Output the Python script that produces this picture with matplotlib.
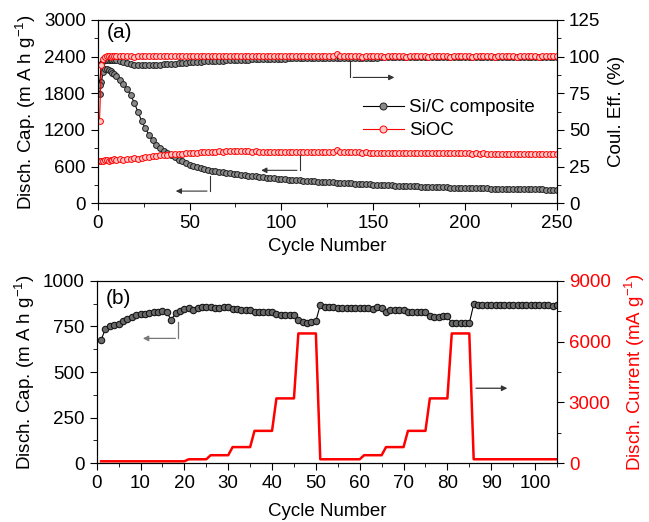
import matplotlib
matplotlib.use("Agg")
import matplotlib.pyplot as plt
from matplotlib.ticker import MultipleLocator

plt.rcParams['font.family'] = ['Liberation Sans', 'DejaVu Sans']
plt.rcParams['mathtext.fontset'] = 'custom'
plt.rcParams['mathtext.rm'] = 'Liberation Sans'
plt.rcParams['mathtext.default'] = 'regular'

# ---------------- Panel (a) data ----------------
cycles_a = list(range(1, 11)) + list(range(12, 251, 2))

sic_cap = [1790, 1990, 2150, 2190, 2200, 2185, 2165, 2140, 2115, 2090,
           2010, 1950, 1870, 1770, 1640, 1490, 1340, 1225, 1120, 1030,
           960, 905, 860, 820, 785, 750, 715, 685, 655, 630,
           610, 592, 575, 560, 547,
           535, 525, 515, 505, 495, 488, 481, 474, 467, 460,
           453, 446, 439, 432, 425, 419, 413, 407, 401, 395,
           391, 387, 383, 379, 375, 371, 367, 363, 359, 355,
           352, 348, 345, 341, 338, 335, 331, 328, 325, 321,
           318, 315, 312, 308, 305, 303, 300, 298, 295, 293,
           290, 288, 285, 283, 280, 278, 276, 274, 272, 270,
           268, 266, 264, 262, 260, 258, 256, 254, 252, 250,
           249, 248, 246, 245, 244, 243, 241, 240, 239, 238,
           237, 236, 235, 234, 233, 232, 231, 230, 229, 228,
           227, 226, 224, 222, 220]

sioc_cap = [690, 700, 695, 705, 710, 700, 715, 705, 720, 712,
            718, 710, 725, 730, 735, 728, 745, 760, 752, 770,
            778, 790, 785, 795, 800, 808, 805, 815, 820, 825,
            830, 828, 835, 838, 840,
            842, 846, 848, 845, 850, 848, 852, 849, 851, 848,
            850, 846, 849, 845, 847, 844, 846, 842, 845, 842,
            840, 843, 839, 841, 838, 840, 836, 839, 835, 838,
            836, 838, 835, 840, 868, 845, 835, 833, 836, 832,
            834, 830, 833, 829, 831, 828, 830, 827, 829, 826,
            828, 825, 827, 824, 826, 823, 825, 822, 824, 821,
            823, 820, 822, 819, 821, 818, 820, 817, 819, 816,
            818, 815, 817, 814, 816, 813, 815, 812, 814, 811,
            813, 810, 812, 809, 811, 808, 810, 807, 809, 806,
            808, 805, 807, 804, 805]

sic_ce = [80.5, 95.0, 97.3, 97.6, 97.8, 97.9, 97.8, 97.7, 97.6, 97.5,
          97.2, 96.6, 95.8, 95.0, 94.6, 94.3, 94.2, 94.1, 94.1, 94.2,
          94.3, 94.5, 94.7, 94.9, 95.1, 95.3, 95.5, 95.7, 95.9, 96.1,
          96.3, 96.5, 96.6, 96.8, 96.9,
          97.0, 97.1, 97.2, 97.3, 97.4, 97.5, 97.6, 97.7, 97.8, 97.9,
          98.0, 98.1, 98.2, 98.3, 98.4, 98.45, 98.5, 98.55, 98.6, 98.65,
          98.7, 98.75, 98.8, 98.85, 98.9, 98.9, 98.95, 99.0, 99.0, 99.05,
          99.1, 99.1, 99.15, 99.2, 99.2, 99.2, 99.25, 99.3, 99.3, 99.3,
          99.35, 99.35, 99.4, 99.4, 99.4, 99.4, 99.45, 99.45, 99.45, 99.5,
          99.5, 99.5, 99.5, 99.5, 99.55, 99.55, 99.55, 99.55, 99.55, 99.6,
          99.6, 99.6, 99.6, 99.6, 99.6, 99.6, 99.6, 99.6, 99.6, 99.6,
          99.6, 99.6, 99.6, 99.6, 99.6, 99.6, 99.6, 99.6, 99.6, 99.6,
          99.6, 99.6, 99.6, 99.6, 99.6, 99.6, 99.6, 99.6, 99.6, 99.6,
          99.6, 99.6, 99.6, 99.6, 99.6]

sioc_ce = [56.0, 94.0, 98.5, 99.6, 100.2, 100.4, 100.1, 100.6, 100.3, 100.5,
           100.2, 100.6, 100.3, 100.5, 100.1, 100.4, 100.7, 100.3, 100.5, 100.2,
           100.6, 100.4, 100.2, 100.5, 100.3, 100.6, 100.4, 100.2, 100.5, 100.3,
           100.5, 100.2, 100.6, 100.4, 100.3,
           100.5, 100.3, 100.4, 100.2, 100.5, 100.3, 100.4, 100.2, 100.5, 100.3,
           100.4, 100.2, 100.5, 100.3, 100.4, 100.2, 100.5, 100.3, 100.4, 100.2,
           100.5, 100.3, 100.4, 100.2, 100.5, 100.3, 100.4, 100.2, 100.5, 100.3,
           100.4, 100.2, 100.5, 100.3, 101.5, 100.6, 100.3, 100.2, 100.4, 100.2,
           100.3, 100.1, 100.3, 100.2, 100.4, 100.2, 100.3, 100.1, 100.3, 100.2,
           100.4, 100.2, 100.3, 100.1, 100.3, 100.2, 100.4, 100.2, 100.3, 100.1,
           100.3, 100.2, 100.4, 100.2, 100.3, 100.1, 100.3, 100.2, 100.4, 100.2,
           100.3, 100.1, 100.3, 100.2, 100.4, 100.2, 100.3, 100.1, 100.3, 100.2,
           100.4, 100.2, 100.3, 100.1, 100.3, 100.2, 100.4, 100.2, 100.3, 100.1,
           100.3, 100.2, 100.4, 100.2, 100.3]

# ---------------- Panel (b) data ----------------
cycles_b = list(range(1, 106))
rate_cap = [675, 737, 752, 757, 765, 778, 792, 803, 810, 815,
            818, 822, 826, 830, 834, 826, 785, 823, 833, 843,
            852, 842, 850, 855, 857, 856, 853, 853, 854, 854,
            845, 843, 842, 840, 840, 828, 830, 830, 829, 826,
            815, 814, 813, 813, 812, 785, 776, 767, 772, 780,
            866, 858, 856, 855, 853, 852, 851, 852, 850, 850,
            849, 848, 846, 857, 850, 830, 840, 840, 840, 837,
            828, 826, 826, 826, 828, 805, 803, 803, 804, 805,
            767, 767, 767, 767, 767, 870, 868, 868, 868, 868,
            868, 868, 868, 868, 868, 868, 868, 868, 868, 868,
            868, 868, 868, 864, 868]
current = [100] * 20 + [200] * 5 + [400] * 5 + [800] * 5 + [1600] * 5 + [3200] * 5 + [6400] * 5 \
          + [200] * 10 + [400] * 5 + [800] * 5 + [1600] * 5 + [3200] * 5 + [6400] * 5 + [200] * 20

FS = 13.5
RED = '#ff0000'
MS_A = 4.2

fig = plt.figure(figsize=(6.49, 5.22), dpi=100)
ax1 = fig.add_axes([0.1505, 0.6105, 0.7077, 0.3512])
ax1r = ax1.twinx()

ax1r.plot(cycles_a, sic_ce, '-o', color='black', lw=0.8, ms=MS_A, mfc='#8a8a8a', mec='#202020', mew=0.7)
ax1r.plot(cycles_a, sioc_ce, '-o', color=RED, lw=0.8, ms=MS_A, mfc='#ffc8c8', mec=RED, mew=0.7)
l1, = ax1.plot(cycles_a, sic_cap, '-o', color='black', lw=0.8, ms=MS_A, mfc='#8a8a8a', mec='#202020', mew=0.7,
               label='Si/C composite')
l2, = ax1.plot(cycles_a, sioc_cap, '-o', color=RED, lw=0.8, ms=MS_A, mfc='#ffc8c8', mec=RED, mew=0.7,
               label='SiOC')

ax1.set_xlim(0, 250)
ax1.set_ylim(0, 3000)
ax1r.set_ylim(0, 125)
ax1.xaxis.set_major_locator(MultipleLocator(50))
ax1.xaxis.set_minor_locator(MultipleLocator(25))
ax1.yaxis.set_major_locator(MultipleLocator(600))
ax1.yaxis.set_minor_locator(MultipleLocator(300))
ax1r.yaxis.set_major_locator(MultipleLocator(25))
ax1r.yaxis.set_minor_locator(MultipleLocator(12.5))
for a in (ax1, ax1r):
    a.tick_params(which='both', direction='out', labelsize=FS)
    a.tick_params(which='major', length=5)
    a.tick_params(which='minor', length=3)
ax1.set_xlabel('Cycle Number', fontsize=FS)
ax1.set_ylabel('Disch. Cap. (m A h g$^{-1}$)', fontsize=FS, labelpad=4)
ax1r.set_ylabel('Coul. Eff. (%)', fontsize=FS, labelpad=6)
ax1.text(0.02, 0.93, '(a)', transform=ax1.transAxes, fontsize=15, va='center', ha='left')
ax1.legend(handles=[l1, l2], loc='upper left', bbox_to_anchor=(0.54, 0.66), frameon=False,
           fontsize=FS, handlelength=2.2, handletextpad=0.3, labelspacing=0.3, numpoints=1,
           markerscale=1.2)

arrow_kw = dict(arrowstyle='-|>', color='#333333', lw=0.8, mutation_scale=8)
ax1.plot([137.5, 137.5], [2410, 2060], color='#333333', lw=0.8)
ax1.annotate('', xy=(163, 2060), xytext=(137.5, 2060), arrowprops=arrow_kw)
ax1.plot([110, 110], [790, 540], color='#333333', lw=0.8)
ax1.annotate('', xy=(87.5, 540), xytext=(110, 540), arrowprops=arrow_kw)
ax1.plot([61, 61], [440, 200], color='#333333', lw=0.8)
ax1.annotate('', xy=(41, 200), xytext=(61, 200), arrowprops=arrow_kw)

# ---------------- Panel (b) ----------------
ax2 = fig.add_axes([0.1490, 0.1124, 0.7092, 0.3499])
ax2r = ax2.twinx()
ax2r.plot(cycles_b, current, '-', color=RED, lw=1.8)
ax2.plot(cycles_b, rate_cap, '-o', color='black', lw=0.8, ms=4.6, mfc='#6a6a6a', mec='#151515', mew=0.8)
ax2.set_zorder(ax2r.get_zorder() + 1)
ax2.patch.set_visible(False)

ax2.set_xlim(0, 105)
ax2.set_ylim(0, 1000)
ax2r.set_ylim(0, 9000)
ax2.xaxis.set_major_locator(MultipleLocator(10))
ax2.xaxis.set_minor_locator(MultipleLocator(5))
ax2.yaxis.set_major_locator(MultipleLocator(250))
ax2.yaxis.set_minor_locator(MultipleLocator(125))
ax2r.yaxis.set_major_locator(MultipleLocator(3000))
ax2r.yaxis.set_minor_locator(MultipleLocator(1500))
for a in (ax2, ax2r):
    a.tick_params(which='both', direction='out', labelsize=FS)
    a.tick_params(which='major', length=5)
    a.tick_params(which='minor', length=3)
ax2r.tick_params(axis='y', labelcolor=RED)
ax2.set_xlabel('Cycle Number', fontsize=FS, labelpad=8)
ax2.set_ylabel('Disch. Cap. (m A h g$^{-1}$)', fontsize=FS, labelpad=4)
ax2r.set_ylabel('Disch. Current (mA g$^{-1}$)', fontsize=FS, color=RED, labelpad=9)
ax2.text(0.02, 0.9, '(b)', transform=ax2.transAxes, fontsize=15, va='center', ha='left')

arrow_kw2 = dict(arrowstyle='-|>', color='#555555', lw=0.9, mutation_scale=8)
ax2.plot([18.6, 18.6], [775, 684], color='#777777', lw=0.9)
ax2.annotate('', xy=(9.9, 684), xytext=(18.6, 684), arrowprops=dict(arrow_kw2, color='#777777'))
ax2r.annotate('', xy=(94.3, 3700), xytext=(85.9, 3700), arrowprops=dict(arrow_kw2, color='#333333'))

fig.savefig('out.png', dpi=100)
